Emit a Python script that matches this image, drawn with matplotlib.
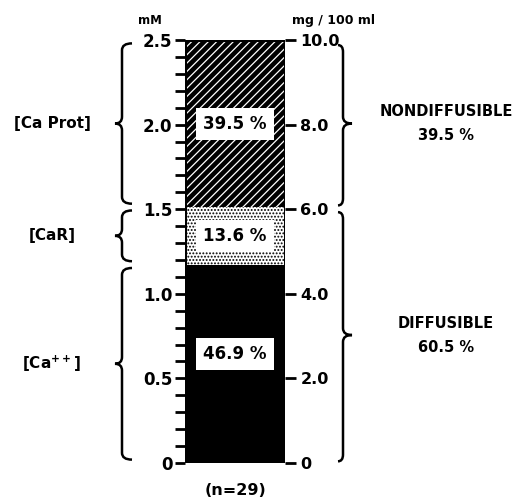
"""Calcium fractions in serum: stacked column with mM / mg per 100 ml scales."""
import matplotlib
matplotlib.use("Agg")
import matplotlib.pyplot as plt
from matplotlib.path import Path
from matplotlib.patches import PathPatch

# fractions (bottom to top), in mM
fractions = ["[Ca$^{++}$]", "[CaR]", "[Ca Prot]"]
values_mM = [1.1725, 0.34, 0.9875]
percents = [46.9, 13.6, 39.5]
n_samples = 29

left_ticks = [0, 0.5, 1.0, 1.5, 2.0, 2.5]
left_labels = ["0", "0.5", "1.0", "1.5", "2.0", "2.5"]
right_ticks = [0, 2, 4, 6, 8, 10]
right_labels = ["0", "2.0", "4.0", "6.0", "8.0", "10.0"]

plt.rcParams["font.family"] = ["DejaVu Sans"]
plt.rcParams["font.weight"] = "bold"
plt.rcParams["mathtext.default"] = "bf"
plt.rcParams["hatch.linewidth"] = 0.9

W, H = 519, 497
fig = plt.figure(figsize=(W / 100, H / 100), dpi=100)
ax = fig.add_axes([185 / W, (H - 463) / H, 100 / W, 423 / H])

total = sum(values_mM)
bottoms = [0, values_mM[0], values_mM[0] + values_mM[1]]

# Ca++ : solid black
ax.bar(0.5, values_mM[0], bottom=bottoms[0], width=1.0, color="black",
       linewidth=0)
# CaR : black stipple on white
ax.bar(0.5, values_mM[1], bottom=bottoms[1], width=1.0, facecolor="white",
       edgecolor="black", hatch=".....", linewidth=0)
# CaProt : thin white diagonal lines on black
ax.bar(0.5, values_mM[2], bottom=bottoms[2], width=1.0, color="black",
       linewidth=0)
ax.bar(0.5, values_mM[2], bottom=bottoms[2], width=1.0, facecolor="none",
       edgecolor="white", hatch="////", linewidth=0)
# column outline
ax.bar(0.5, total, width=1.0, facecolor="none", edgecolor="black",
       linewidth=2.2)

ax.set_xlim(0, 1)
ax.set_ylim(0, total)
ax.set_xticks([])
for s in ax.spines.values():
    s.set_visible(False)
ax.set_yticks(left_ticks)
ax.set_yticklabels(left_labels)
ax.set_yticks([i / 10 for i in range(26)], minor=True)
ax.tick_params(axis="y", which="both", direction="out", length=7, width=2,
               pad=2, labelsize=12)

ax2 = ax.twinx()
ax2.set_ylim(0, total * 4)
ax2.set_yticks(right_ticks)
ax2.set_yticklabels(right_labels)
for s in ax2.spines.values():
    s.set_visible(False)
ax2.tick_params(axis="y", direction="out", length=8, width=2, pad=3,
                labelsize=11.5)

# percent labels inside the column
label_pos = [0.55, 0.5, 0.5]
for b, v, p, f in zip(bottoms, values_mM, percents, label_pos):
    ax.text(0.5, b + v * f, f"{p:.1f} %", ha="center", va="center",
            fontsize=12,
            bbox=dict(facecolor="white", edgecolor="none", pad=5))

tr = ax.get_yaxis_transform()


def brace(x, y0, y1, tip_y, side, hook=0.08, tip=0.08, r=0.04):
    # side=-1: tip points left, hooks to the right
    pts = [(x - side * hook, y1), (x, y1), (x, y1 - r),
           (x, tip_y + r), (x, tip_y), (x + side * tip, tip_y),
           (x, tip_y), (x, tip_y - r),
           (x, y0 + r), (x, y0), (x - side * hook, y0)]
    codes = [Path.MOVETO, Path.CURVE3, Path.CURVE3,
             Path.LINETO, Path.CURVE3, Path.CURVE3,
             Path.CURVE3, Path.CURVE3,
             Path.LINETO, Path.CURVE3, Path.CURVE3]
    ax.add_patch(PathPatch(Path(pts, codes), transform=tr, fill=False,
                           lw=1.8, edgecolor="black", clip_on=False))


# left braces and names
for b, v, name in zip(bottoms, values_mM, fractions):
    mid = b + v / 2
    brace(-0.63, b + 0.02, b + v - 0.02, mid, -1, hook=0.1, tip=0.07)
    ax.text(-1.33, mid, name, transform=tr, ha="center", va="center",
            fontsize=11)

# right braces: diffusible / nondiffusible
diff_top = bottoms[2]
diff_pct = percents[0] + percents[1]
groups = [(0, diff_top, "DIFFUSIBLE", diff_pct),
          (diff_top, total, "NONDIFFUSIBLE", percents[2])]
for y0, y1, name, pct in groups:
    mid = (y0 + y1) / 2
    brace(1.58, y0 + 0.01, y1 - 0.03, mid, 1, hook=0.05, tip=0.09)
    ax.text(2.61, mid, f"{name}\n{pct:.1f} %", transform=tr, ha="center",
            va="center", fontsize=10.5, linespacing=1.75)

ax.text(-0.35, 1.03, "mM", transform=ax.transAxes, ha="center",
        va="bottom", fontsize=8.5)
ax.text(1.48, 1.03, "mg / 100 ml", transform=ax.transAxes, ha="center",
        va="bottom", fontsize=9)
ax.text(0.5, -0.064, f"(n={n_samples})", transform=ax.transAxes,
        ha="center", va="center", fontsize=11.5)

fig.savefig("out.png", dpi=100)
